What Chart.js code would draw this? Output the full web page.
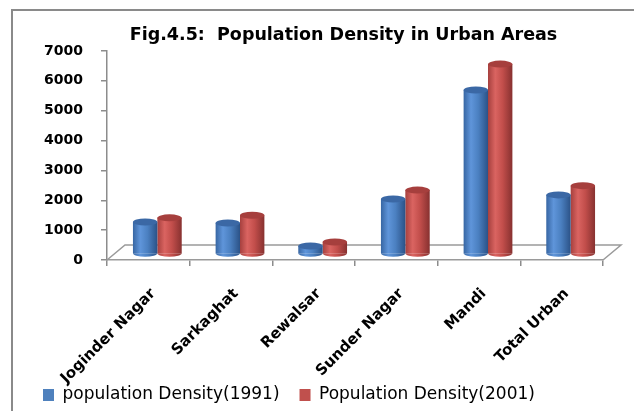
<!DOCTYPE html>
<html>
<head>
<meta charset="utf-8">
<script src="https://cdn.jsdelivr.net/npm/chart.js@4.4.1/dist/chart.umd.min.js"></script>
<style>
  html, body { margin: 0; padding: 0; background: #ffffff; }
  #wrap { width: 634px; height: 411px; position: relative; }
</style>
</head>
<body>
<div id="wrap"><canvas id="c" width="634" height="411"></canvas></div>
<script>
// ---- data ----
const chartTitle = 'Fig.4.5:  Population Density in Urban Areas';
const categories = ['Joginder Nagar', 'Sarkaghat', 'Rewalsar', 'Sunder Nagar', 'Mandi', 'Total Urban'];
const seriesNames = ['population Density(1991)', 'Population Density(2001)'];
const density1991 = [1070, 1040, 270, 1840, 5490, 1980];
const density2001 = [1210, 1300, 400, 2140, 6360, 2290];
const yTickValues = [0, 1000, 2000, 3000, 4000, 5000, 6000, 7000];

// ---- styles ----
const FONT = "'DejaVu Sans', sans-serif";
const palettes = [
  { solid: '#4f81bd', top: '#3b68a5', stops: ['#3766a3', '#5f95da', '#4b80c1', '#2b5287'] },
  { solid: '#c0504d', top: '#a63f3d', stops: ['#a6403e', '#da6461', '#c24e4b', '#873130'] }
];
const DEPTH_X = 9, DEPTH_Y = -6, CAP_RY = 3.5;
const CAT_PCT = 0.59;

function barGradient(ctx, left, right, pal) {
  const g = ctx.createLinearGradient(left, 0, right, 0);
  g.addColorStop(0, pal.stops[0]);
  g.addColorStop(0.3, pal.stops[1]);
  g.addColorStop(0.6, pal.stops[2]);
  g.addColorStop(1, pal.stops[3]);
  return g;
}

function scriptedFill(c) {
  const pal = palettes[c.datasetIndex];
  if (c.type !== 'data') return pal.solid;
  const xs = c.chart.scales.x;
  if (!xs || !isFinite(xs.width) || xs.width <= 0) return pal.solid;
  const cw = xs.width / categories.length;
  const bw = cw * CAT_PCT / 2;
  const center = xs.getPixelForValue(c.dataIndex);
  const left = center - bw + c.datasetIndex * bw;
  return barGradient(c.chart.ctx, left, left + bw, pal);
}

const framePlugin = {
  id: 'frame',
  afterLayout(chart) {
    const xs = chart.scales.x;
    xs.bottom = chart.height;
    const t = chart.titleBlock;
    if (t) {
      t.left = chart.chartArea.left - 23;
      t.right = chart.chartArea.right;
      t.width = t.right - t.left;
    }
  },
  beforeDraw(chart) {
    const ctx = chart.ctx;
    ctx.save();
    ctx.fillStyle = '#ffffff';
    ctx.fillRect(0, 0, chart.width, chart.height);
    ctx.strokeStyle = '#8a8a8a';
    ctx.lineWidth = 2;
    ctx.beginPath();
    ctx.moveTo(12, chart.height);
    ctx.lineTo(12, 10);
    ctx.lineTo(chart.width, 10);
    ctx.stroke();
    ctx.restore();
  }
};

const floorPlugin = {
  id: 'floor3d',
  beforeDatasetsDraw(chart) {
    const ctx = chart.ctx, a = chart.chartArea;
    const dx = 18, dy = -15;
    ctx.save();
    ctx.strokeStyle = '#9a9a9a';
    ctx.lineWidth = 1.5;
    ctx.beginPath();
    ctx.moveTo(a.left, a.bottom);
    ctx.lineTo(a.left + dx, a.bottom + dy);
    ctx.lineTo(a.right + dx, a.bottom + dy);
    ctx.lineTo(a.right, a.bottom);
    ctx.stroke();
    ctx.restore();
    ctx.save();
    ctx.translate(DEPTH_X, DEPTH_Y);
  },
  afterDatasetDraw(chart, args) {
    const ctx = chart.ctx;
    const meta = args.meta;
    const pal = palettes[args.index];
    meta.data.forEach(el => {
      const p = el.getProps(['x', 'y', 'base', 'width'], true);
      const rx = p.width / 2;
      ctx.save();
      ctx.fillStyle = barGradient(ctx, p.x - rx, p.x + rx, pal);
      ctx.beginPath();
      ctx.ellipse(p.x, p.base, rx, CAP_RY, 0, 0, Math.PI);
      ctx.fill();
      ctx.fillStyle = pal.top;
      ctx.beginPath();
      ctx.ellipse(p.x, p.y, rx, CAP_RY, 0, 0, Math.PI * 2);
      ctx.fill();
      ctx.restore();
    });
  },
  afterDatasetsDraw(chart) {
    chart.ctx.restore();
  }
};

new Chart(document.getElementById('c'), {
  type: 'bar',
  data: {
    labels: categories,
    datasets: [
      { label: seriesNames[0], data: density1991, backgroundColor: scriptedFill, borderWidth: 0, clip: false },
      { label: seriesNames[1], data: density2001, backgroundColor: scriptedFill, borderWidth: 0, clip: false }
    ]
  },
  options: {
    responsive: false,
    animation: false,
    devicePixelRatio: 1,
    categoryPercentage: CAT_PCT,
    barPercentage: 1.0,
    layout: { padding: { left: 23, right: 31, top: 14, bottom: -2.5 } },
    plugins: {
      title: {
        display: true,
        text: chartTitle,
        color: '#000000',
        font: { family: FONT, size: 17.5, weight: 'bold', lineHeight: 1.2 },
        padding: { top: 10.5, bottom: 5.5 }
      },
      legend: {
        display: true,
        position: 'bottom',
        align: 'start',
        labels: {
          color: '#000000',
          font: { family: FONT, size: 17 },
          boxWidth: 11,
          boxHeight: 12,
          padding: 20,
          generateLabels(chart) {
            const items = Chart.defaults.plugins.legend.labels.generateLabels(chart);
            items.forEach((it, i) => {
              it.fillStyle = palettes[i].solid;
              it.strokeStyle = palettes[i].solid;
              it.lineWidth = 0;
            });
            return items;
          }
        }
      },
      tooltip: { enabled: false }
    },
    scales: {
      x: {
        offset: true,
        grid: { display: true, offset: true, drawOnChartArea: false, drawTicks: true, tickLength: 6, color: '#8c8c8c', lineWidth: 1.5 },
        border: { display: true, color: '#9a9a9a', width: 1.5 },
        ticks: {
          color: '#000000',
          font: { family: FONT, size: 15, weight: 'bold' },
          minRotation: 45, maxRotation: 45, autoSkip: false, padding: 19, labelOffset: 5
        },
        afterFit(scale) { scale.height = 106.5; }
      },
      y: {
        min: yTickValues[0],
        max: yTickValues[yTickValues.length - 1],
        afterBuildTicks(scale) { scale.ticks = yTickValues.map(v => ({ value: v })); },
        grid: { display: true, drawOnChartArea: false, drawTicks: true, tickLength: 6, color: '#8c8c8c', lineWidth: 1.5 },
        border: { display: true, color: '#8c8c8c', width: 1.5 },
        ticks: {
          color: '#000000',
          font: { family: FONT, size: 14, weight: 'bold' },
          padding: 18,
          callback: (v) => String(v)
        },
        afterFit(scale) { scale.width = 84; }
      }
    }
  },
  plugins: [framePlugin, floorPlugin]
});
</script>
</body>
</html>
